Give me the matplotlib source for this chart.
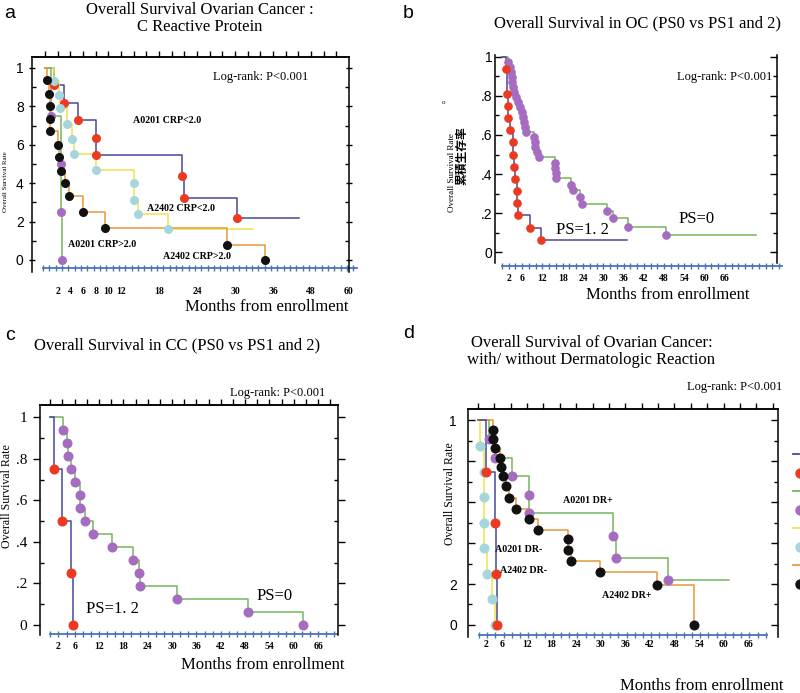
import matplotlib
matplotlib.use("Agg")
import matplotlib.pyplot as plt
from matplotlib.lines import Line2D
import numpy as np

SERIF = "Liberation Serif"
SANS = "Liberation Sans"
W, H = 800, 693

NAVY = "#48489c"
RED = "#ec3a20"
GREEN = "#74b65a"
PURPLE = "#a56cbf"
YELLOW = "#efe34c"
LBLUE = "#a6d6dc"
ORANGE = "#e6973a"
BLACK = "#111111"
AXBLUE = "#4b74b5"

# ---- data: event month, survival after event, month where the curve ends ----
# a : ovarian cancer, CRP
a_lo0201_t = [1.5, 3.0, 5.2, 8.1, 8.1, 21.6, 22.0, 30.3]
a_lo0201_s = [0.91, 0.82, 0.73, 0.635, 0.545, 0.435, 0.325, 0.22]
a_lo0201_end = 40.1
a_lo2402_t = [1.4, 2.2, 2.4, 3.5, 4.3, 4.6, 8.1, 14.1, 14.1, 14.7, 19.4]
a_lo2402_s = [0.93, 0.86, 0.79, 0.71, 0.63, 0.55, 0.47, 0.40, 0.31, 0.24, 0.16]
a_lo2402_end = 32.9
a_hi0201_t = [1.0, 2.6, 2.6, 2.7]
a_hi0201_s = [0.75, 0.5, 0.25, 0.0]
a_hi0201_end = 2.7
a_hi2402_t = [0.25, 0.6, 0.8, 0.8, 0.8, 2.05, 2.2, 2.5, 3.2, 3.8, 6.0, 9.4, 28.7, 34.7]
a_hi2402_s = [0.935, 0.865, 0.80, 0.735, 0.67, 0.60, 0.535, 0.465, 0.40, 0.335,
              0.25, 0.165, 0.08, 0.0]
a_hi2402_end = 34.7
a_xticks = [2, 4, 6, 8, 10, 12, 18, 24, 30, 36, 42, 48]
a_xlabels = ["2", "4", "6", "8", "10", "12", "18", "24", "30", "36", "48", "60"]

# b : OC, PS0 vs PS1,2
b_ps12_t = [1.1, 1.4, 1.8, 1.9, 2.3, 3.3, 3.4, 3.6, 3.9, 4.4, 4.6, 4.8, 8.2, 11.5]
b_ps12_s = [0.9375, 0.8125, 0.75, 0.6875, 0.625, 0.5625, 0.5, 0.4375, 0.375,
            0.3125, 0.25, 0.1875, 0.125, 0.0625]
b_ps12_end = 37.0
b_ps0_t = [1.9, 2.4, 2.7, 2.9, 3.1, 3.4, 3.7, 4.1, 4.7, 5.4, 5.9, 6.1, 6.4, 6.7, 7.1,
           9.4, 9.7, 9.9, 10.4, 10.9, 15.7, 15.8, 15.9, 16.1, 20.4, 20.9, 23.1, 23.6,
           31.0, 32.8, 37.2, 48.5]
b_ps0_s = [0.974, 0.949, 0.923, 0.897, 0.872, 0.846, 0.821, 0.795, 0.769, 0.744,
           0.718, 0.692, 0.667, 0.641, 0.615, 0.59, 0.564, 0.538, 0.513, 0.487,
           0.456, 0.431, 0.405, 0.379, 0.344, 0.318, 0.28, 0.245, 0.21, 0.173,
           0.13, 0.087]
b_ps0_end = 75.2
b_xticks = [2, 6, 12, 18, 24, 30, 36, 42, 48, 54, 60, 66]

# c : CC, PS0 vs PS1,2
c_ps12_t = [1.0, 2.8, 5.2, 5.5]
c_ps12_s = [0.75, 0.5, 0.25, 0.0]
c_ps12_end = 5.5
c_ps0_t = [3.2, 4.0, 4.3, 5.1, 6.1, 7.3, 7.3, 8.5, 10.4, 15.1, 20.3, 21.9, 22.1,
           31.3, 48.8, 62.3]
c_ps0_s = [0.9375, 0.875, 0.8125, 0.75, 0.6875, 0.625, 0.5625, 0.5, 0.4375,
           0.375, 0.3125, 0.25, 0.1875, 0.125, 0.0625, 0.0]
c_ps0_end = 62.3

# d : ovarian cancer, dermatologic reaction
d_neg0201_t = [2.0, 4.3, 4.5, 4.7]
d_neg0201_s = [0.75, 0.5, 0.25, 0.0]
d_neg0201_end = 4.7
d_pos0201_t = [2.6, 4.2, 8.3, 12.6, 12.6, 33.0, 33.8, 46.4]
d_pos0201_s = [0.909, 0.818, 0.727, 0.636, 0.545, 0.436, 0.327, 0.218]
d_pos0201_end = 61.4
d_neg2402_t = [0.6, 1.4, 1.6, 1.6, 1.6, 2.2, 3.4, 4.2]
d_neg2402_s = [0.875, 0.75, 0.625, 0.5, 0.375, 0.25, 0.125, 0.0]
d_neg2402_end = 4.2
d_pos2402_t = [3.8, 3.8, 4.1, 5.3, 5.7, 6.1, 6.9, 7.5, 9.4, 12.4, 14.7, 22.1, 22.1,
               22.8, 29.9, 43.7, 52.9]
d_pos2402_s = [0.954, 0.909, 0.865, 0.816, 0.77, 0.726, 0.677, 0.62, 0.568, 0.517,
               0.465, 0.42, 0.367, 0.313, 0.261, 0.196, 0.0]
d_pos2402_end = 52.9


def px_box(l, t, r, b):
    return [l / W, 1 - b / H, (r - l) / W, (b - t) / H]


def ftext(x, y, s, **kw):
    fig.text(x / W, 1 - y / H, s, **kw)


def km(ax, t, s, end, lc, mc, ms):
    xs = [0] + list(t) + [end]
    ys = [1.0] + list(s) + [s[-1]]
    ax.step(xs, ys, where="post", color=lc, lw=1.1, zorder=2)
    ax.plot(t, s, ls="none", marker="o", ms=ms, color=mc, mec=mc, zorder=3)


def frame(ax, xlim, ylim, ylabels, yfont, ysize, ydir, ypad, base_y, base_span,
          base_step, xt, xtl, xpad, top_step=None):
    ax.set_xlim(*xlim)
    ax.set_ylim(*ylim)
    ax.spines["bottom"].set_visible(False)
    ax.spines["top"].set_visible(top_step is not None)
    for sp in ("left", "right", "top"):
        ax.spines[sp].set_linewidth(1.1)
    ax.set_yticks([0, 0.2, 0.4, 0.6, 0.8, 1.0], ylabels)
    ax.set_yticks(np.arange(0.1, 1.0, 0.2), minor=True)
    ax.tick_params(axis="y", which="major", direction=ydir, length=5, width=1,
                   right=True, labelsize=ysize, pad=ypad)
    ax.tick_params(axis="y", which="minor", direction="in", length=3, width=1,
                   right=True)
    for lab in ax.get_yticklabels():
        lab.set_fontfamily(yfont)
    ax.set_xticks(xt, xtl)
    ax.tick_params(axis="x", which="both", length=0, pad=xpad, top=False,
                   labelsize=7)
    for lab in ax.get_xticklabels():
        lab.set_fontfamily(SERIF)
        lab.set_fontweight("bold")
    if top_step is not None:
        sec = ax.secondary_xaxis("top")
        sec.set_xticks(np.arange(0, xlim[1], top_step))
        sec.tick_params(direction="out", length=4, width=1, labeltop=False)
        sec.spines["top"].set_linewidth(1.1)
    bx = np.arange(base_span[0], base_span[1] + 0.01, base_step)
    ax.plot(base_span, [base_y, base_y], color=AXBLUE, lw=1.3, clip_on=False)
    ax.plot(bx, np.full(len(bx), base_y), ls="none", marker="|", ms=5, mew=1,
            color=AXBLUE, clip_on=False)


fig = plt.figure(figsize=(W / 100, H / 100), dpi=100)

title_kw = dict(fontfamily=SERIF, fontsize=12, ha="center", va="center")
months_kw = dict(fontfamily=SERIF, fontsize=12, ha="center", va="center")
lr_kw = dict(fontfamily=SERIF, fontsize=9, va="center")
ser_kw = dict(fontfamily=SERIF, fontsize=7.2, fontweight="bold", va="center")
ps_kw = dict(fontfamily=SERIF, fontsize=12, va="center")
letter_kw = dict(fontfamily=SANS, fontsize=14, va="center")

# ---------------- panel a ----------------
ax = fig.add_axes(px_box(32, 57, 349, 272))
km(ax, a_lo0201_t, a_lo0201_s, a_lo0201_end, NAVY, RED, 5.5)
km(ax, a_lo2402_t, a_lo2402_s, a_lo2402_end, YELLOW, LBLUE, 5.5)
km(ax, a_hi0201_t, a_hi0201_s, a_hi0201_end, GREEN, PURPLE, 5.5)
km(ax, a_hi2402_t, a_hi2402_s, a_hi2402_end, ORANGE, BLACK, 5.5)
frame(ax, (-2.05, 48.0), (-0.0625, 1.057), ["0", "2", "4", "6", "8", "1"], SANS, 10,
      "inout", 3.5, -0.042, (-0.3, 49.3), 1, a_xticks, a_xlabels, 11, top_step=2)
ax.text(13.9, 0.724, "A0201 CRP<2.0", **ser_kw)
ax.text(16.1, 0.266, "A2402 CRP<2.0", **ser_kw)
ax.text(3.7, 0.083, "A0201 CRP>2.0", **ser_kw)
ax.text(18.6, 0.016, "A2402 CRP>2.0", **ser_kw)
ftext(213, 77, "Log-rank: P<0.001", ha="left", **lr_kw)
ftext(200, 10, "Overall Survival Ovarian Cancer :", **title_kw)
ftext(200, 27, "C Reactive Protein", **title_kw)
ftext(267, 307, "Months from enrollment", **months_kw)
ftext(6, 182, "Overall Survival Rate", fontfamily=SERIF, fontsize=5, rotation=90,
      ha="center", va="center")
ftext(4, 14, "a", ha="left", **letter_kw)

# ---------------- panel b ----------------
ax = fig.add_axes(px_box(495, 55, 777, 263))
km(ax, b_ps0_t, b_ps0_s, b_ps0_end, GREEN, PURPLE, 5.2)
km(ax, b_ps12_t, b_ps12_s, b_ps12_end, NAVY, RED, 5.2)
frame(ax, (-2.04, 81.4), (-0.056, 1.01), ["0", ".2", ".4", ".6", ".8", "1"], SANS, 10,
      "in", 2, -0.072, (0, 83), 2, b_xticks, [str(v) for v in b_xticks], 8)
ax.text(16.0, 0.113, "PS=1. 2", **ps_kw)
ax.text(52.4, 0.17, "PS=0", **ps_kw)
ftext(677, 77, "Log-rank: P<0.001", ha="left", **lr_kw)
ftext(637, 23, "Overall Survival in OC (PS0 vs PS1 and 2)", **title_kw)
ftext(668, 295, "Months from enrollment", **months_kw)
ftext(452, 173, "Overall Survival Rate", fontfamily=SERIF, fontsize=6.5, rotation=90,
      ha="center", va="center")
ftext(462, 156, "累積生存率", fontfamily=["Noto Sans CJK JP", "DejaVu Sans"],
      fontsize=8.5, fontweight="bold", rotation=90, ha="center", va="center")
ftext(443, 102, "o", fontfamily=SERIF, fontsize=5, ha="center", va="center")
ftext(403, 14, "b", ha="left", **letter_kw)

# ---------------- panel c ----------------
ax = fig.add_axes(px_box(40, 405, 338, 635))
km(ax, c_ps0_t, c_ps0_s, c_ps0_end, GREEN, PURPLE, 6.2)
km(ax, c_ps12_t, c_ps12_s, c_ps12_end, NAVY, RED, 6.2)
frame(ax, (-2.54, 70.9), (-0.048, 1.059), ["0", ".2", ".4", ".6", ".8", "1"], SERIF, 11,
      "out", 4, -0.043, (0, 70.6), 2, b_xticks, [str(v) for v in b_xticks], 5,
      top_step=3)
ax.text(8.8, 0.077, "PS=1. 2", **ps_kw)
ax.text(50.9, 0.14, "PS=0", **ps_kw)
ftext(230, 393, "Log-rank: P<0.001", ha="left", **lr_kw)
ftext(177, 345, "Overall Survival in CC (PS0 vs PS1 and 2)", **title_kw)
ftext(263, 665, "Months from enrollment", **months_kw)
ftext(7, 496, "Overall Survival Rate", fontfamily=SERIF, fontsize=8.6, rotation=90,
      ha="center", va="center")
ftext(5, 336, "c", ha="left", **letter_kw)

# ---------------- panel d ----------------
ax = fig.add_axes(px_box(468, 409, 778, 637))
km(ax, d_pos0201_t, d_pos0201_s, d_pos0201_end, GREEN, PURPLE, 6.2)
km(ax, d_pos2402_t, d_pos2402_s, d_pos2402_end, ORANGE, BLACK, 6.2)
km(ax, d_neg2402_t, d_neg2402_s, d_neg2402_end, YELLOW, LBLUE, 6.2)
km(ax, d_neg0201_t, d_neg0201_s, d_neg0201_end, NAVY, RED, 6.2)
frame(ax, (-2.41, 73.3), (-0.059, 1.056), ["0", "2", "", "", "", "1"], SANS, 10,
      "in", 8, -0.049, (0.3, 70.6), 2, b_xticks, [str(v) for v in b_xticks], 2,
      top_step=4)
ax.text(20.9, 0.608, "A0201 DR+", **ser_kw)
ax.text(4.1, 0.367, "A0201 DR-", **ser_kw)
ax.text(5.5, 0.266, "A2402 DR-", **ser_kw)
ax.text(30.3, 0.143, "A2402 DR+", **ser_kw)
ftext(782, 387, "Log-rank: P<0.001", ha="right", **lr_kw)
ftext(592, 343, "Overall Survival of Ovarian Cancer:", **title_kw)
ftext(591, 360, "with/ without Dermatologic Reaction", **title_kw)
ftext(783, 686, "Months from enrollment", fontfamily=SERIF, fontsize=12,
      ha="right", va="center")
ftext(450, 494, "Overall Survival Rate", fontfamily=SERIF, fontsize=8.5, rotation=90,
      ha="center", va="center")
ftext(403, 334, "d", ha="left", **letter_kw)

# legend keys of panel d, cut off by the right edge of the figure
key_styles = [("line", NAVY), ("dot", RED), ("line", GREEN), ("dot", PURPLE),
              ("line", YELLOW), ("dot", LBLUE), ("line", ORANGE), ("dot", BLACK)]
for i, (kind, col) in enumerate(key_styles):
    yk = 1 - (454 + i * 18.5) / H
    if kind == "line":
        fig.add_artist(Line2D([793 / W, 799 / W], [yk, yk], color=col, lw=1.3,
                              transform=fig.transFigure))
    else:
        fig.add_artist(Line2D([800 / W], [yk], ls="none", marker="o", ms=6.5,
                              color=col, transform=fig.transFigure))

fig.savefig("out.png", dpi=100)
